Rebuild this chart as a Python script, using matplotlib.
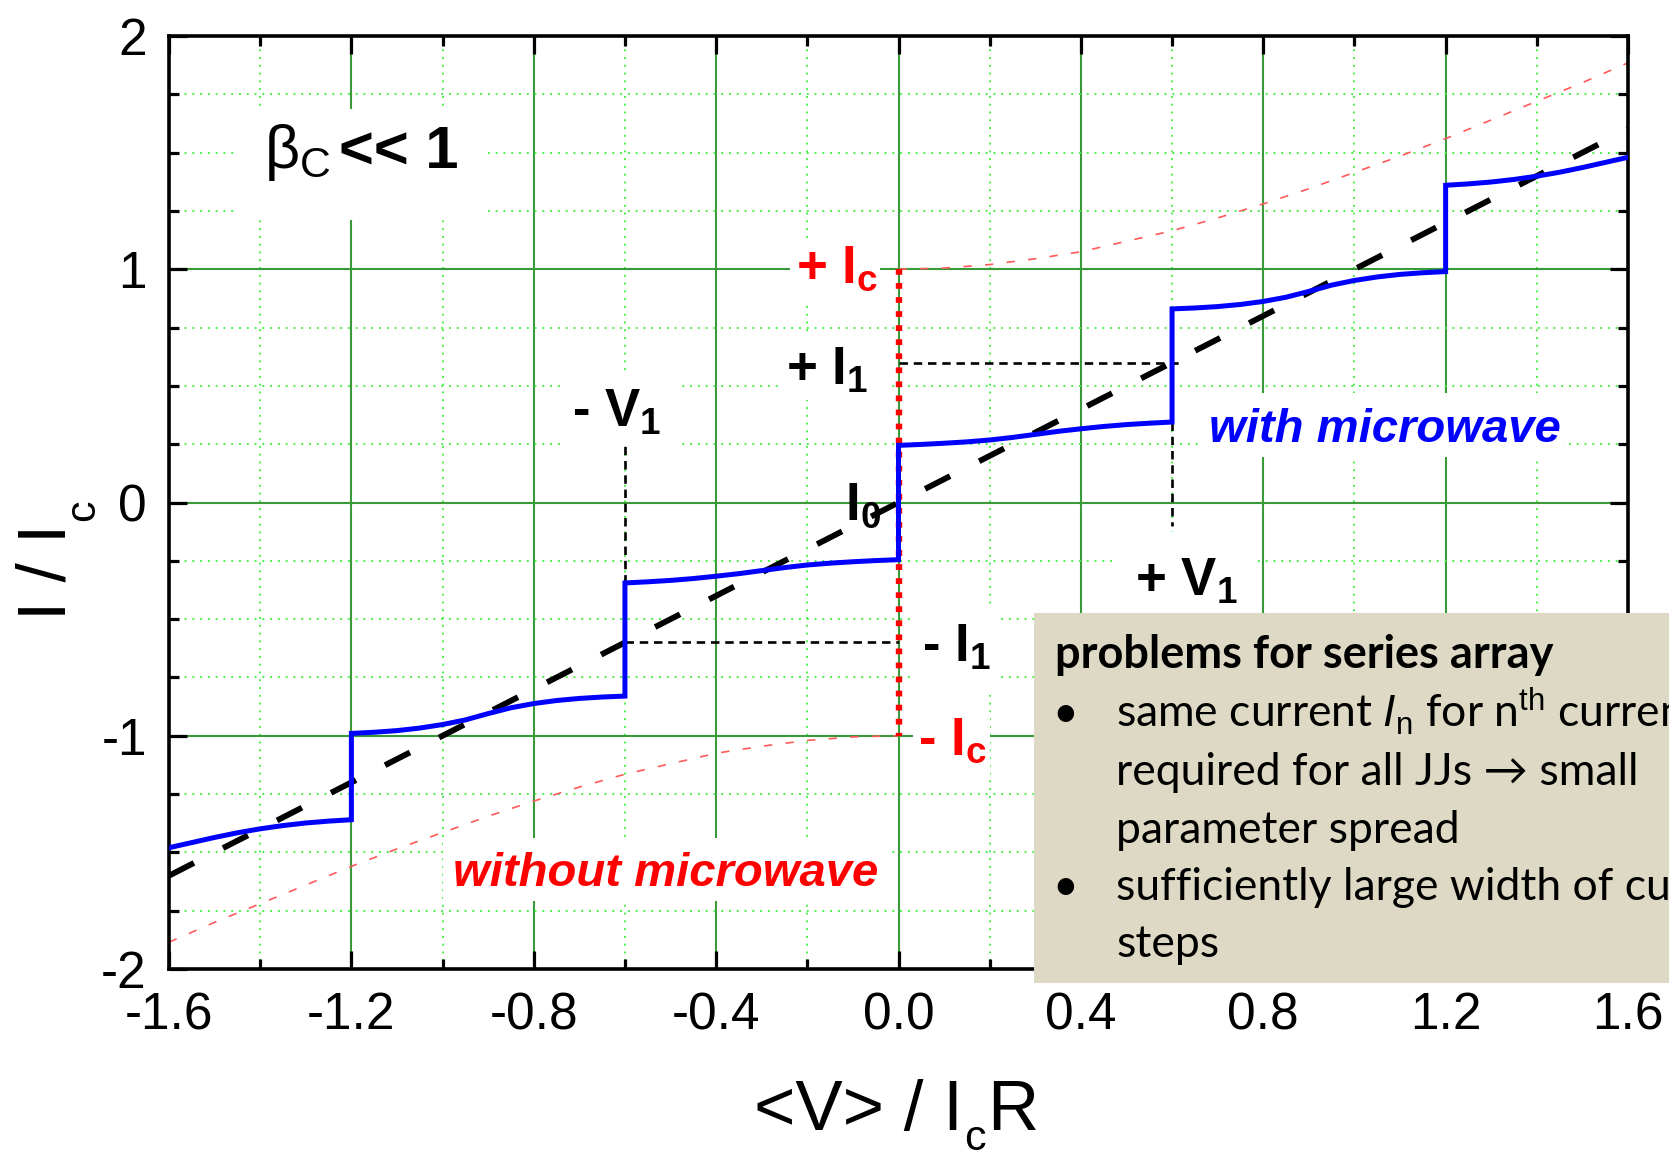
import matplotlib
matplotlib.use("Agg")
import matplotlib.pyplot as plt
from matplotlib.patches import Rectangle
from matplotlib.ticker import MultipleLocator, FixedLocator, FixedFormatter

plt.rcParams['font.family'] = ['Liberation Sans', 'DejaVu Sans']
plt.rcParams['mathtext.fontset'] = 'custom'
plt.rcParams['mathtext.rm'] = 'Liberation Sans'
plt.rcParams['mathtext.it'] = 'Liberation Sans:italic'
plt.rcParams['mathtext.bf'] = 'Liberation Sans:bold'

# ---------------- data ----------------
# I-V curve with microwave (Shapiro steps); repeated V values are the vertical steps
v_microwave = [-1.60, -1.55, -1.50, -1.45, -1.40, -1.35, -1.30, -1.25, -1.20,
               -1.20, -1.15, -1.10, -1.05, -1.00, -0.95, -0.90, -0.85, -0.80, -0.75, -0.70, -0.65, -0.60,
               -0.60, -0.55, -0.50, -0.45, -0.40, -0.35, -0.30, -0.25, -0.20, -0.15, -0.10, -0.05, 0.00,
               0.00, 0.05, 0.10, 0.15, 0.20, 0.25, 0.30, 0.35, 0.40, 0.45, 0.50, 0.55, 0.60,
               0.60, 0.65, 0.70, 0.75, 0.80, 0.85, 0.90, 0.95, 1.00, 1.05, 1.10, 1.15, 1.20,
               1.20, 1.25, 1.30, 1.35, 1.40, 1.45, 1.50, 1.55, 1.60]
i_microwave = [-1.480, -1.458, -1.436, -1.416, -1.399, -1.385, -1.374, -1.366, -1.360,
               -0.990, -0.985, -0.978, -0.967, -0.952, -0.932, -0.905, -0.880, -0.862, -0.849, -0.840, -0.834, -0.830,
               -0.345, -0.340, -0.334, -0.326, -0.316, -0.305, -0.292, -0.279, -0.268, -0.260, -0.254, -0.249, -0.245,
               0.245, 0.249, 0.254, 0.260, 0.268, 0.279, 0.292, 0.305, 0.316, 0.326, 0.334, 0.340, 0.345,
               0.830, 0.834, 0.840, 0.849, 0.862, 0.880, 0.905, 0.932, 0.952, 0.967, 0.978, 0.985, 0.990,
               1.360, 1.366, 1.374, 1.385, 1.399, 1.416, 1.436, 1.458, 1.480]

# I-V curve without microwave
v_no_mw_pos = [0.0, 0.1, 0.2, 0.3, 0.4, 0.5, 0.6, 0.7, 0.8, 0.9, 1.0, 1.1, 1.2, 1.3, 1.4, 1.5, 1.6]
i_no_mw_pos = [1.00, 1.005, 1.02, 1.045, 1.075, 1.12, 1.165, 1.22, 1.28, 1.345, 1.415, 1.485, 1.56, 1.64, 1.72, 1.80, 1.885]
v_no_mw_neg = [-1.6, -1.5, -1.4, -1.3, -1.2, -1.1, -1.0, -0.9, -0.8, -0.7, -0.6, -0.5, -0.4, -0.3, -0.2, -0.1, 0.0]
i_no_mw_neg = [-1.885, -1.80, -1.72, -1.64, -1.56, -1.485, -1.415, -1.345, -1.28, -1.22, -1.165, -1.12, -1.075, -1.045, -1.02, -1.005, -1.00]

# supercurrent branch (V = 0, from +Ic to -Ic)
v_super = [0.0, 0.0]
i_super = [1.0, -1.0]

# ohmic line
v_ohm = [-1.6, 1.6]
i_ohm = [-1.6, 1.6]

# guide lines for the first step
v_guide_ip = [0.0, 0.62]
i_guide_ip = [0.6, 0.6]
v_guide_in = [-0.6, 0.0]
i_guide_in = [-0.6, -0.6]
v_guide_vp = [0.6, 0.6]
i_guide_vp = [0.345, -0.10]
v_guide_vn = [-0.6, -0.6]
i_guide_vn = [-0.345, 0.25]

x_ticks = [-1.6, -1.2, -0.8, -0.4, 0.0, 0.4, 0.8, 1.2, 1.6]
x_tick_labels = ['-1.6', '-1.2', '-0.8', '-0.4', '0.0', '0.4', '0.8', '1.2', '1.6']
y_ticks = [-2, -1, 0, 1, 2]
y_tick_labels = ['-2', '-1', '0', '1', '2']

# ---------------- figure ----------------
W, H = 1669, 1156
fig = plt.figure(figsize=(W / 100, H / 100), dpi=100)
L, R, T, B = 169, 1628, 36, 969
ax = fig.add_axes([L / W, 1 - B / H, (R - L) / W, (B - T) / H])


def px_rect(x0, y0, x1, y1, **kw):
    return Rectangle((x0 / W, 1 - y1 / H), (x1 - x0) / W, (y1 - y0) / H,
                     transform=fig.transFigure, **kw)


def ftxt(x, y, s, **kw):
    kw.setdefault('va', 'baseline')
    kw.setdefault('ha', 'left')
    return fig.text(x / W, 1 - y / H, s, **kw)


# grid and ticks
ax.xaxis.set_major_locator(FixedLocator(x_ticks))
ax.xaxis.set_major_formatter(FixedFormatter(x_tick_labels))
ax.xaxis.set_minor_locator(MultipleLocator(0.2))
ax.yaxis.set_major_locator(FixedLocator(y_ticks))
ax.yaxis.set_major_formatter(FixedFormatter(y_tick_labels))
ax.yaxis.set_minor_locator(MultipleLocator(0.25))
ax.set_axisbelow(True)
ax.grid(which='major', color='#3a9a3a', linewidth=1.5, linestyle='-')
ax.grid(which='minor', color='#4cf04c', linewidth=1.4, linestyle=(0, (1, 3)))
ax.tick_params(which='both', direction='in', top=True, right=True, width=2.3, color='black')
ax.tick_params(which='major', length=13, labelsize=37, pad=16)
ax.tick_params(which='minor', length=7)
for s in ax.spines.values():
    s.set_linewidth(2.6)

# white label backgrounds (hide grid)
for (x0, y0, x1, y1) in [(235, 109, 486, 220), (790, 238, 880, 300), (783, 335, 887, 400),
                         (560, 375, 678, 452), (1112, 532, 1253, 613), (913, 605, 997, 690),
                         (913, 712, 990, 775), (1200, 393, 1563, 457), (443, 838, 890, 901)]:
    ax.add_patch(px_rect(x0, y0, x1, y1, facecolor='white', edgecolor='none', zorder=1))

# curves
ax.plot(v_no_mw_pos, i_no_mw_pos, color='#ff5a5a', lw=1.2, linestyle=(0, (5, 8)), zorder=2)
ax.plot(v_no_mw_neg, i_no_mw_neg, color='#ff5a5a', lw=1.2, linestyle=(0, (5, 8)), zorder=2)
ax.plot(v_super, i_super, color='#ff0000', lw=4.6, linestyle=(0, (0.9, 1.3)),
        dash_capstyle='butt', zorder=3)
for gv, gi in [(v_guide_ip, i_guide_ip), (v_guide_in, i_guide_in),
               (v_guide_vp, i_guide_vp), (v_guide_vn, i_guide_vn)]:
    ax.plot(gv, gi, color='black', lw=1.9, linestyle=(0, (3.2, 2.2)), zorder=3)
ax.plot(v_ohm, i_ohm, color='black', lw=4.2, linestyle=(0, (4.8, 5.6)),
        dash_capstyle='butt', zorder=4)
ax.plot(v_microwave, i_microwave, color='#0000ff', lw=3.6, solid_joinstyle='miter', zorder=5)

ax.set_xlim(-1.6, 1.6)
ax.set_ylim(-2, 2)

# labels inside the plot
lab = dict(fontsize=38, fontweight='bold', va='baseline', zorder=6)
ax.text(-0.045, 0.943, r'+ I$_\mathbf{c}$', color='#ff0000', ha='right', **lab)
ax.text(-0.067, 0.506, r'+ I$_\mathbf{1}$', color='black', ha='right', **lab)
ax.text(-0.118, -0.073, r'I$_\mathbf{0}$', color='black', ha='left', **lab)
ax.text(-0.716, 0.326, r'- V$_\mathbf{1}$', color='black', ha='left', **lab)
ax.text(0.519, -0.401, r'+ V$_\mathbf{1}$', color='black', ha='left', **lab)
ax.text(0.052, -0.681, r'- I$_\mathbf{1}$', color='black', ha='left', **lab)
ax.text(0.043, -1.080, r'- I$_\mathbf{c}$', color='#ff0000', ha='left', **lab)
ax.text(0.681, 0.261, 'with microwave', color='#0000ff', fontsize=34, fontweight='bold',
        fontstyle='italic', ha='left', va='baseline', zorder=6)
ax.text(-0.977, -1.645, 'without microwave', color='#ff0000', fontsize=34, fontweight='bold',
        fontstyle='italic', ha='left', va='baseline', zorder=6)
ax.text(-1.391, 1.435, r'β$_\mathrm{C}$', color='black', fontsize=44, ha='left', va='baseline', zorder=6)
ax.text(-1.227, 1.435, '<< 1', color='black', fontsize=43, fontweight='bold', ha='left', va='baseline', zorder=6)

# axis labels (subscript set clearly below the baseline, as in the reference)
ftxt(66, 524, 'I / I', rotation=90, rotation_mode='anchor', fontsize=50, ha='right', va='baseline')
ftxt(94, 521, 'c', rotation=90, rotation_mode='anchor', fontsize=31, ha='left', va='baseline')
ftxt(963, 1130, '<V> / I', fontsize=51, ha='right', va='baseline')
ftxt(964, 1150, 'c', fontsize=31, ha='left', va='baseline')
ftxt(987, 1130, 'R', fontsize=51, ha='left', va='baseline')

# text box
fig.add_artist(px_rect(1034, 613, 1700, 983, facecolor='#DDD9C4', edgecolor='none', zorder=5))
box = dict(fontfamily=['Lato', 'DejaVu Sans'], color='black', zorder=6)
ftxt(1055, 668, 'problems for series array', fontsize=32.5, fontweight='bold', **box)
ftxt(1052, 727, '•', fontsize=32, **box)
ftxt(1116, 727, r'same current $\mathit{I}_\mathrm{n}$ for n$^\mathrm{th}$ current step', fontsize=32, **box)
ftxt(1116, 785, 'required for all JJs → small', fontsize=32, **box)
ftxt(1116, 843, 'parameter spread', fontsize=32, **box)
ftxt(1052, 900, '•', fontsize=32, **box)
ftxt(1116, 900, 'sufficiently large width of current', fontsize=32, **box)
ftxt(1116, 957, 'steps', fontsize=32, **box)

fig.savefig('out.png', dpi=100)
